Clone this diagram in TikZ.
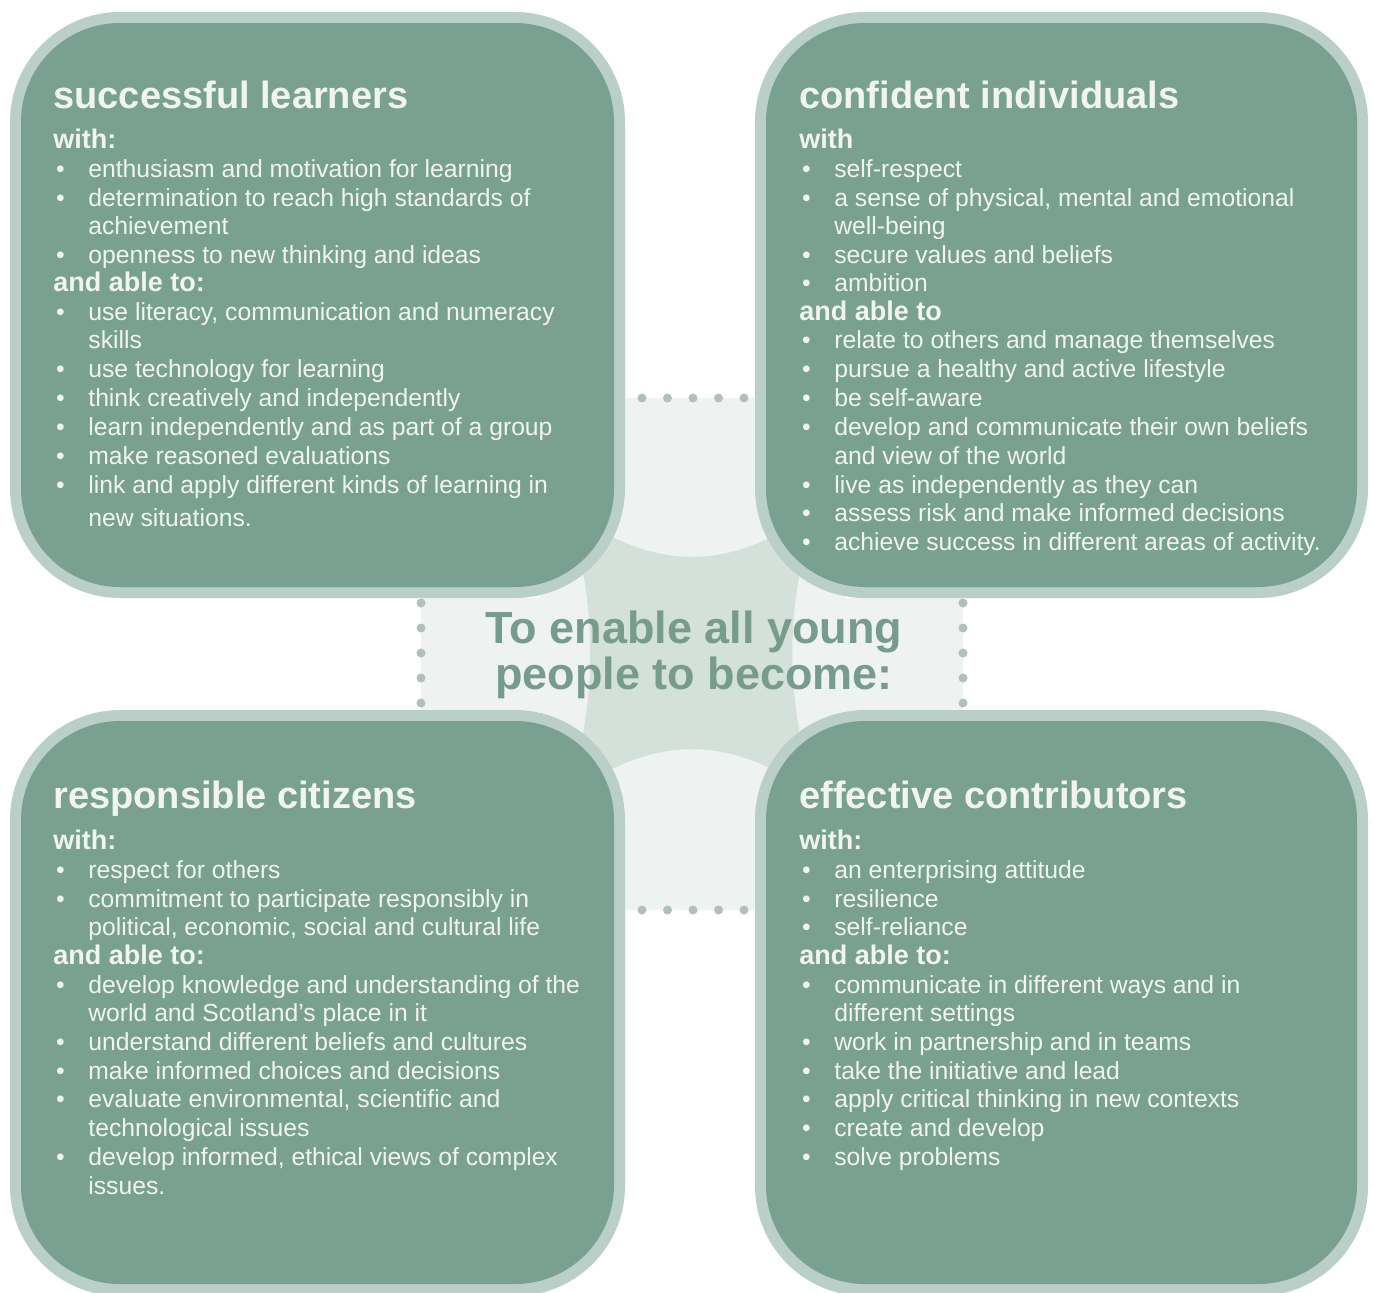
\documentclass[tikz,border=0pt]{standalone}
\usepackage{fontspec}
\setmainfont{Liberation Sans}
\definecolor{boxc}{RGB}{121,160,145}
\definecolor{bordc}{RGB}{186,207,199}
\definecolor{lightc}{RGB}{238,243,241}
\definecolor{darkc}{RGB}{212,224,218}
\definecolor{dotc}{RGB}{178,192,186}
\definecolor{txtc}{RGB}{240,245,242}
\definecolor{midtxt}{RGB}{119,155,141}
\newcommand\bul{\makebox[17.5pt][l]{\hspace{1.3pt}•}}
\newcommand\cnt{\hspace*{17.5pt}}
\begin{document}
\begin{tikzpicture}[x=0.5pt,y=-0.5pt,
  body/.style={anchor=base west, inner sep=0pt, text=txtc, font=\fontsize{12.35}{14}\selectfont},
  subhd/.style={body, font=\bfseries\fontsize{13.5}{14}\selectfont},
  ttl/.style={body, font=\bfseries\fontsize{19}{20}\selectfont},
  midtext/.style={anchor=base, inner sep=0pt, text=midtxt, font=\bfseries\fontsize{22.5}{20.5}\selectfont},
  outerbox/.style={fill=bordc, rounded corners=55pt},
  innerbox/.style={fill=boxc, rounded corners=49.5pt},
  dot/.style={fill=dotc}]
\useasboundingbox (0,0) rectangle (1374,1292);
\fill[white] (0,0) rectangle (1374,1292);
% light bands
\fill[lightc] (622,398) rectangle (762,910);
\fill[lightc] (421,598) rectangle (963,712);
\fill[lightc] (540,480) rectangle (845,830);
% central darker concave square
\fill[darkc] (567,508) .. controls (650,573) and (734,573) .. (817,508)
  .. controls (784,605) and (784,701) .. (817,798)
  .. controls (734,733) and (650,733) .. (567,798)
  .. controls (598,701) and (598,605) .. cycle;
% dotted edges
\foreach \x in {642,667.5,693,718.5,744} {
  \fill[dot] (\x,398) circle (4.5);
  \fill[dot] (\x,910) circle (4.5);
}
\foreach \y in {603,628,653,678,703} {
  \fill[dot] (421,\y) circle (4.5);
  \fill[dot] (963,\y) circle (4.5);
}
% boxes
\fill[outerbox] (10,12) rectangle (625,598);
\fill[innerbox] (21,23) rectangle (614,587);
\fill[outerbox] (755,12) rectangle (1368,598);
\fill[innerbox] (766,23) rectangle (1357,587);
\fill[outerbox] (10,710) rectangle (625,1296);
\fill[innerbox] (21,721) rectangle (614,1284);
\fill[outerbox] (755,710) rectangle (1368,1296);
\fill[innerbox] (766,721) rectangle (1357,1284);
% central text
\node[midtext] (m1) at (694,643) {To enable all young};
\node[midtext] (m2) at (694,689) {people to become:};
% successful learners
\node[ttl] (a0) at (53,108) {successful learners};
\node[subhd] (a1) at (53,148) {with:};
\node[body] (a2) at (53,177) {\bul enthusiasm and motivation for learning};
\node[body] (a3) at (53,206) {\bul determination to reach high standards of};
\node[body] (a4) at (53,234) {\cnt achievement};
\node[body] (a5) at (53,263) {\bul openness to new thinking and ideas};
\node[subhd] (a6) at (53,291) {and able to:};
\node[body] (a7) at (53,320) {\bul use literacy, communication and numeracy};
\node[body] (a8) at (53,348) {\cnt skills};
\node[body] (a9) at (53,377) {\bul use technology for learning};
\node[body] (a10) at (53,406) {\bul think creatively and independently};
\node[body] (a11) at (53,435) {\bul learn independently and as part of a group};
\node[body] (a12) at (53,464) {\bul make reasoned evaluations};
\node[body] (a13) at (53,493) {\bul link and apply different kinds of learning in};
\node[body] (a14) at (53,526) {\cnt new situations.};
% confident individuals
\node[ttl] (b0) at (799,108) {confident individuals};
\node[subhd] (b1) at (799,148) {with};
\node[body] (b2) at (799,177) {\bul self-respect};
\node[body] (b3) at (799,206) {\bul a sense of physical, mental and emotional};
\node[body] (b4) at (799,234) {\cnt well-being};
\node[body] (b5) at (799,263) {\bul secure values and beliefs};
\node[body] (b6) at (799,291) {\bul ambition};
\node[subhd] (b7) at (799,320) {and able to};
\node[body] (b8) at (799,348) {\bul relate to others and manage themselves};
\node[body] (b9) at (799,377) {\bul pursue a healthy and active lifestyle};
\node[body] (b10) at (799,406) {\bul be self-aware};
\node[body] (b11) at (799,435) {\bul develop and communicate their own beliefs};
\node[body] (b12) at (799,464) {\cnt and view of the world};
\node[body] (b13) at (799,493) {\bul live as independently as they can};
\node[body] (b14) at (799,521) {\bul assess risk and make informed decisions};
\node[body] (b15) at (799,550) {\bul achieve success in different areas of activity.};
% responsible citizens
\node[ttl] (c0) at (53,808) {responsible citizens};
\node[subhd] (c1) at (53,849) {with:};
\node[body] (c2) at (53,878) {\bul respect for others};
\node[body] (c3) at (53,907) {\bul commitment to participate responsibly in};
\node[body] (c4) at (53,935) {\cnt political, economic, social and cultural life};
\node[subhd] (c5) at (53,964) {and able to:};
\node[body] (c6) at (53,993) {\bul develop knowledge and understanding of the};
\node[body] (c7) at (53,1021) {\cnt world and Scotland's place in it};
\node[body] (c8) at (53,1050) {\bul understand different beliefs and cultures};
\node[body] (c9) at (53,1079) {\bul make informed choices and decisions};
\node[body] (c10) at (53,1107) {\bul evaluate environmental, scientific and};
\node[body] (c11) at (53,1136) {\cnt technological issues};
\node[body] (c12) at (53,1165) {\bul develop informed, ethical views of complex};
\node[body] (c13) at (53,1194) {\cnt issues.};
% effective contributors
\node[ttl] (d0) at (799,808) {effective contributors};
\node[subhd] (d1) at (799,849) {with:};
\node[body] (d2) at (799,878) {\bul an enterprising attitude};
\node[body] (d3) at (799,907) {\bul resilience};
\node[body] (d4) at (799,935) {\bul self-reliance};
\node[subhd] (d5) at (799,964) {and able to:};
\node[body] (d6) at (799,993) {\bul communicate in different ways and in};
\node[body] (d7) at (799,1021) {\cnt different settings};
\node[body] (d8) at (799,1050) {\bul work in partnership and in teams};
\node[body] (d9) at (799,1079) {\bul take the initiative and lead};
\node[body] (d10) at (799,1107) {\bul apply critical thinking in new contexts};
\node[body] (d11) at (799,1136) {\bul create and develop};
\node[body] (d12) at (799,1165) {\bul solve problems};
\end{tikzpicture}
\end{document}
